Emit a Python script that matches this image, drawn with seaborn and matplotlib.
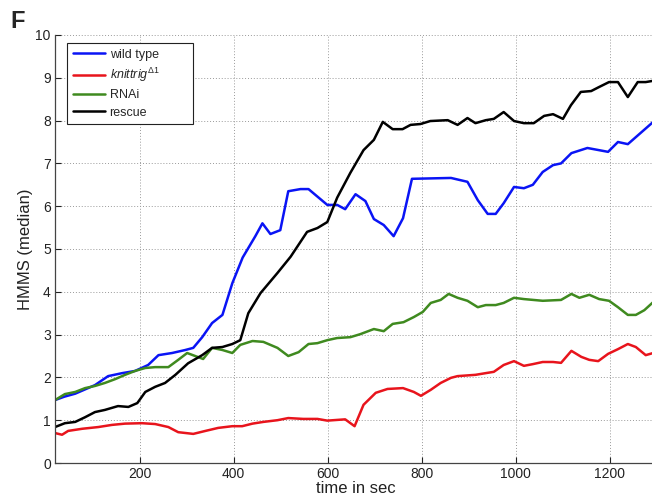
import matplotlib
matplotlib.use("Agg")
import matplotlib.pyplot as plt
import seaborn as sns
import pandas as pd

# ---- data ----
wt_t = [20, 40, 63, 84, 105, 133, 163, 190, 218, 240, 269, 297, 314, 333, 354, 376, 397,
        419, 446, 461, 478, 499, 516, 542, 559, 599, 620, 637, 659, 680, 698, 719, 740, 760,
        779, 862, 897, 919, 940, 957, 974, 996, 1017, 1036, 1057, 1079, 1096, 1118, 1152,
        1196, 1217, 1238, 1292]
wt_v = [1.47, 1.55, 1.62, 1.72, 1.82, 2.03, 2.1, 2.15, 2.29, 2.52, 2.57, 2.64, 2.69, 2.94,
        3.27, 3.46, 4.2, 4.8, 5.3, 5.6, 5.35, 5.44, 6.35, 6.4, 6.4, 6.03, 6.03, 5.93, 6.28,
        6.12, 5.7, 5.56, 5.3, 5.72, 6.64, 6.66, 6.57, 6.14, 5.82, 5.82, 6.07, 6.45, 6.42,
        6.5, 6.8, 6.96, 7.0, 7.24, 7.36, 7.27, 7.5, 7.45, 7.97]

kn_t = [20, 35, 48, 78, 112, 141, 169, 205, 233, 261, 282, 314, 340, 367, 397, 418, 440,
        463, 493, 516, 548, 578, 599, 637, 657, 676, 702, 727, 760, 783, 798, 819, 840, 862,
        876, 914, 936, 953, 974, 996, 1017, 1036, 1057, 1079, 1096, 1118, 1139, 1156, 1175,
        1196, 1217, 1238, 1255, 1276, 1292]
kn_v = [0.7, 0.66, 0.75, 0.8, 0.84, 0.89, 0.92, 0.93, 0.91, 0.84, 0.72, 0.68, 0.75, 0.82,
        0.86, 0.86, 0.92, 0.96, 1.0, 1.05, 1.03, 1.03, 0.99, 1.02, 0.86, 1.36, 1.64, 1.73,
        1.75, 1.66, 1.57, 1.71, 1.87, 1.99, 2.03, 2.06, 2.1, 2.13, 2.29, 2.38, 2.27, 2.31,
        2.36, 2.36, 2.34, 2.62, 2.48, 2.41, 2.38, 2.55, 2.66, 2.78, 2.71, 2.52, 2.57]

rn_t = [20, 41, 63, 84, 105, 126, 148, 169, 190, 212, 233, 261, 282, 301, 318, 335, 354,
        376, 397, 414, 440, 463, 493, 516, 538, 559, 578, 599, 620, 648, 669, 698, 719, 738,
        761, 783, 802, 819, 840, 857, 876, 897, 919, 936, 957, 974, 996, 1017, 1057, 1096,
        1118, 1135, 1156, 1177, 1198, 1217, 1238, 1255, 1273, 1292]
rn_v = [1.47, 1.61, 1.66, 1.75, 1.8, 1.87, 1.96, 2.06, 2.15, 2.22, 2.24, 2.24, 2.41, 2.57,
        2.5, 2.43, 2.69, 2.64, 2.57, 2.76, 2.85, 2.83, 2.69, 2.5, 2.59, 2.78, 2.8, 2.87,
        2.92, 2.94, 3.01, 3.13, 3.08, 3.25, 3.29, 3.41, 3.53, 3.74, 3.81, 3.95, 3.86, 3.79,
        3.64, 3.69, 3.69, 3.74, 3.86, 3.83, 3.79, 3.81, 3.95, 3.86, 3.93, 3.83, 3.79, 3.64,
        3.46, 3.46, 3.57, 3.76]

rs_t = [20, 41, 63, 84, 105, 126, 154, 176, 195, 212, 233, 254, 276, 303, 333, 354, 376,
        397, 414, 431, 457, 493, 521, 556, 578, 599, 620, 648, 676, 698, 717, 738, 759, 776,
        797, 818, 855, 876, 897, 914, 936, 953, 974, 996, 1017, 1038, 1060, 1079, 1100, 1117,
        1138, 1160, 1176, 1198, 1217, 1238, 1259, 1276, 1292]
rs_v = [0.84, 0.93, 0.96, 1.07, 1.19, 1.24, 1.33, 1.31, 1.4, 1.66, 1.78, 1.87, 2.06, 2.33,
        2.52, 2.69, 2.71, 2.78, 2.87, 3.5, 3.97, 4.44, 4.82, 5.4, 5.49, 5.63, 6.2, 6.78, 7.31,
        7.55, 7.97, 7.8, 7.8, 7.9, 7.92, 7.99, 8.01, 7.9, 8.06, 7.94, 8.01, 8.04, 8.2, 7.99,
        7.94, 7.94, 8.11, 8.15, 8.04, 8.36, 8.67, 8.69, 8.78, 8.9, 8.9, 8.55, 8.9, 8.9, 8.93]

labels = ["wild type", r"$\mathit{knittrig}^{\Delta 1}$", "RNAi", "rescue"]
colors = ["#0a14f5", "#e8141c", "#3f8a1f", "#000000"]
x_ticks = [200, 400, 600, 800, 1000, 1200]
y_ticks = list(range(0, 11))

# ---- styling ----
sns.set_theme(style="ticks")
plt.rcParams["font.family"] = ["Liberation Sans", "DejaVu Sans"]
plt.rcParams["mathtext.fontset"] = "custom"
plt.rcParams["mathtext.rm"] = "Liberation Sans"
plt.rcParams["mathtext.it"] = "Liberation Sans:italic"
plt.rcParams["mathtext.bf"] = "Liberation Sans:bold"

fig = plt.figure(figsize=(6.52, 4.98), dpi=100)
ax = fig.add_axes([55 / 652, 1 - 463 / 498, 602 / 652, 428 / 498])

series = [(wt_t, wt_v), (kn_t, kn_v), (rn_t, rn_v), (rs_t, rs_v)]
for (t, v), lab, col in zip(series, labels, colors):
    df = pd.DataFrame({"time": t, "hmms": v})
    sns.lineplot(data=df, x="time", y="hmms", color=col, linewidth=1.8,
                 label=lab, ax=ax, sort=False)

ax.set_xlim(20, 1300)
ax.set_ylim(0, 10)
ax.set_xticks(x_ticks)
ax.set_yticks(y_ticks)
ax.tick_params(direction="in", length=4, width=0.8, labelsize=10, colors="#222222",
               pad=3)
ax.grid(True, linestyle=(0, (1, 2)), color="#9a9a9a", linewidth=0.7)
for s in ["top", "right"]:
    ax.spines[s].set_visible(False)
for s in ["left", "bottom"]:
    ax.spines[s].set_color("#444444")
    ax.spines[s].set_linewidth(0.9)

ax.set_xlabel("time in sec", fontsize=12, labelpad=0, color="#222222")
ax.set_ylabel("HMMS (median)", fontsize=12, labelpad=2, color="#222222")

leg = ax.legend(loc="upper left", bbox_to_anchor=(0.02, 0.4, 0.209, 0.581),
                mode="expand", fontsize=9,
                frameon=True, fancybox=False, handlelength=2.6, handletextpad=0.35,
                borderpad=0.45, labelspacing=0.42, borderaxespad=0)
leg.get_frame().set_edgecolor("#222222")
leg.get_frame().set_linewidth(0.8)
leg.get_frame().set_alpha(1)

fig.text(10 / 652, 1 - 22 / 498, "F", fontsize=17, fontweight="bold", va="center",
         ha="left")

fig.savefig("out.png", dpi=100)
